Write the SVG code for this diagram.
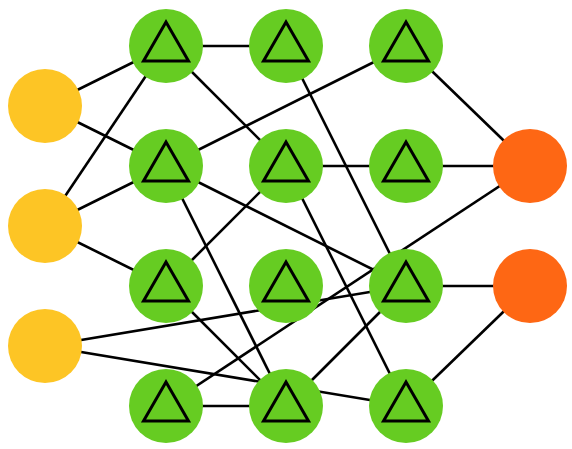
<svg xmlns="http://www.w3.org/2000/svg" xmlns:xlink="http://www.w3.org/1999/xlink" width="572" height="449" viewBox="0 0 572 449">
<style>
.e{stroke:#000;stroke-width:2.6;fill:none}
.in{fill:#fdc525}
.hid{fill:#66cc22}
.out{fill:#fe6714}
.tri{fill:none;stroke:#000;stroke-width:3;stroke-linejoin:miter}
</style>
<defs>
<polygon id="t" class="tri" points="0,-24 -22.5,15 22.5,15"/>
</defs>
<rect width="572" height="449" fill="#fff"/>
<g id="connectors">
<line class="e" x1="45" y1="106" x2="166" y2="46"/>
<line class="e" x1="45" y1="106" x2="166" y2="166"/>
<line class="e" x1="45" y1="226" x2="166" y2="46"/>
<line class="e" x1="45" y1="226" x2="166" y2="166"/>
<line class="e" x1="45" y1="226" x2="166" y2="286"/>
<line class="e" x1="45" y1="346" x2="406" y2="286"/>
<line class="e" x1="45" y1="346" x2="406" y2="406"/>
<line class="e" x1="166" y1="46" x2="286" y2="46"/>
<line class="e" x1="166" y1="46" x2="286" y2="166"/>
<line class="e" x1="166" y1="166" x2="406" y2="46"/>
<line class="e" x1="166" y1="166" x2="406" y2="286"/>
<line class="e" x1="166" y1="166" x2="286" y2="406"/>
<line class="e" x1="166" y1="286" x2="286" y2="166"/>
<line class="e" x1="166" y1="286" x2="286" y2="406"/>
<line class="e" x1="166" y1="406" x2="286" y2="406"/>
<line class="e" x1="166" y1="406" x2="530" y2="166"/>
<line class="e" x1="286" y1="46" x2="406" y2="286"/>
<line class="e" x1="286" y1="166" x2="406" y2="166"/>
<line class="e" x1="286" y1="166" x2="406" y2="406"/>
<line class="e" x1="286" y1="406" x2="406" y2="286"/>
<line class="e" x1="406" y1="46" x2="530" y2="166"/>
<line class="e" x1="406" y1="166" x2="530" y2="166"/>
<line class="e" x1="406" y1="286" x2="530" y2="286"/>
<line class="e" x1="406" y1="406" x2="530" y2="286"/>
</g>
<g id="in1"><circle class="in" cx="45" cy="106" r="37"/></g>
<g id="in2"><circle class="in" cx="45" cy="226" r="37"/></g>
<g id="in3"><circle class="in" cx="45" cy="346" r="37"/></g>
<g id="a1"><circle class="hid" cx="166" cy="46" r="37"/><use xlink:href="#t" x="166" y="46"/></g>
<g id="a2"><circle class="hid" cx="166" cy="166" r="37"/><use xlink:href="#t" x="166" y="166"/></g>
<g id="a3"><circle class="hid" cx="166" cy="286" r="37"/><use xlink:href="#t" x="166" y="286"/></g>
<g id="a4"><circle class="hid" cx="166" cy="406" r="37"/><use xlink:href="#t" x="166" y="406"/></g>
<g id="b1"><circle class="hid" cx="286" cy="46" r="37"/><use xlink:href="#t" x="286" y="46"/></g>
<g id="b2"><circle class="hid" cx="286" cy="166" r="37"/><use xlink:href="#t" x="286" y="166"/></g>
<g id="b3"><circle class="hid" cx="286" cy="286" r="37"/><use xlink:href="#t" x="286" y="286"/></g>
<g id="b4"><circle class="hid" cx="286" cy="406" r="37"/><use xlink:href="#t" x="286" y="406"/></g>
<g id="c1"><circle class="hid" cx="406" cy="46" r="37"/><use xlink:href="#t" x="406" y="46"/></g>
<g id="c2"><circle class="hid" cx="406" cy="166" r="37"/><use xlink:href="#t" x="406" y="166"/></g>
<g id="c3"><circle class="hid" cx="406" cy="286" r="37"/><use xlink:href="#t" x="406" y="286"/></g>
<g id="c4"><circle class="hid" cx="406" cy="406" r="37"/><use xlink:href="#t" x="406" y="406"/></g>
<g id="o1"><circle class="out" cx="530" cy="166" r="37"/></g>
<g id="o2"><circle class="out" cx="530" cy="286" r="37"/></g>
</svg>
